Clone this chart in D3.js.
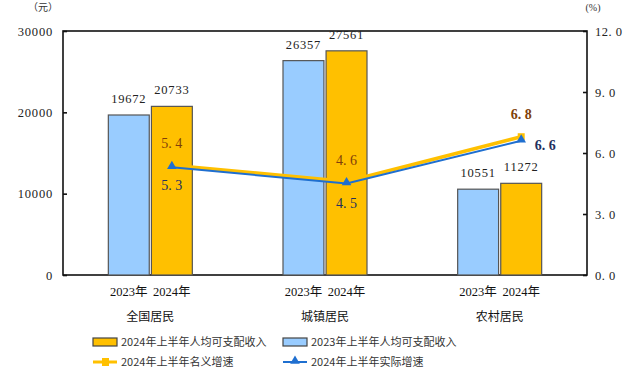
<!DOCTYPE html>
<html lang="zh">
<head>
  <meta charset="UTF-8" />
  <title>居民人均可支配收入</title>
  <script src="https://d3js.org/d3.v7.min.js"></script>
  <style>
    body { margin: 0; background: #fff; }
    svg text { font-family: "Liberation Serif", "Noto Sans CJK SC", serif; }
    .cjk { font-family: "Noto Sans CJK SC", sans-serif; }
  </style>
</head>
<body>
  <svg width="640" height="386"></svg>

  <script>
    // data
    const groups = ["全国居民", "城镇居民", "农村居民"];
    const years = ["2023年", "2024年"];
    const income2023 = [19672, 26357, 10551];
    const income2024 = [20733, 27561, 11272];
    const nominalGrowth = [5.4, 4.6, 6.8];
    const realGrowth = [5.3, 4.5, 6.6];
    const leftTicks = [0, 10000, 20000, 30000];
    const rightTicks = [0, 3, 6, 9, 12];

    const plot = { left: 63, right: 587, top: 31, bottom: 275 };
    const svg = d3.select("svg");

    const x = d3.scaleBand().domain(groups).range([plot.left, plot.right]);
    const sub = d3.scaleBand().domain(years).range([x.bandwidth() / 2 - 42, x.bandwidth() / 2 + 42]).paddingInner(0.05);
    const yL = d3.scaleLinear().domain([0, 30000]).range([plot.bottom, plot.top]);
    const yR = d3.scaleLinear().domain([0, 12]).range([plot.bottom, plot.top]);

    // frame
    svg.append("rect")
      .attr("x", plot.left).attr("y", plot.top)
      .attr("width", plot.right - plot.left).attr("height", plot.bottom - plot.top)
      .attr("fill", "none").attr("stroke", "#111").attr("stroke-width", 1.6);

    // axes (ticks point inward)
    const axisL = svg.append("g")
      .attr("transform", `translate(${plot.left},0)`)
      .call(d3.axisRight(yL).tickValues(leftTicks).tickSize(4).tickFormat(d => d));
    axisL.select(".domain").remove();
    axisL.selectAll("line").attr("stroke", "#111").attr("stroke-width", 1.6);
    axisL.selectAll("text")
      .attr("x", -10).attr("text-anchor", "end")
      .attr("font-size", 12.5).attr("fill", "#222").attr("letter-spacing", 0.8);

    const axisR = svg.append("g")
      .attr("transform", `translate(${plot.right},0)`)
      .call(d3.axisLeft(yR).tickValues(rightTicks).tickSize(4).tickFormat(d => d3.format(".1f")(d).replace(".", ". ")));
    axisR.select(".domain").remove();
    axisR.selectAll("line").attr("stroke", "#111").attr("stroke-width", 1.6);
    axisR.selectAll("text")
      .attr("x", 8).attr("text-anchor", "start")
      .attr("font-size", 12.5).attr("fill", "#222").attr("letter-spacing", 0.5);

    svg.append("text").attr("class", "cjk").attr("x", 43).attr("y", 11)
      .attr("text-anchor", "middle").attr("font-size", 10).attr("fill", "#333").text("（元）");
    svg.append("text").attr("x", 593).attr("y", 11)
      .attr("text-anchor", "middle").attr("font-size", 10).attr("fill", "#333").text("(%)");

    // bars
    const barData = [];
    groups.forEach((g, i) => {
      barData.push({ g, yr: years[0], v: income2023[i], fill: "#99CCFF" });
      barData.push({ g, yr: years[1], v: income2024[i], fill: "#FFC000" });
    });

    svg.selectAll(".bar")
      .data(barData)
      .enter().append("rect")
      .attr("class", "bar")
      .attr("x", d => x(d.g) + sub(d.yr))
      .attr("y", d => yL(d.v))
      .attr("width", sub.bandwidth())
      .attr("height", d => yL(0) - yL(d.v))
      .attr("fill", d => d.fill)
      .attr("stroke", "#555")
      .attr("stroke-width", 1.2);

    svg.selectAll(".barlabel")
      .data(barData)
      .enter().append("text")
      .attr("x", d => x(d.g) + sub(d.yr) + sub.bandwidth() / 2)
      .attr("y", d => yL(d.v) - 12)
      .attr("text-anchor", "middle")
      .attr("font-size", 12.5).attr("fill", "#222").attr("letter-spacing", 0.8)
      .text(d => d.v);

    // category labels
    svg.selectAll(".yearlabel")
      .data(barData)
      .enter().append("text")
      .attr("x", d => x(d.g) + sub(d.yr) + sub.bandwidth() / 2)
      .attr("y", 296)
      .attr("text-anchor", "middle")
      .attr("font-size", 12.5).attr("fill", "#111")
      .text(d => d.yr);

    svg.selectAll(".grouplabel")
      .data(groups)
      .enter().append("text")
      .attr("class", "cjk")
      .attr("x", d => x(d) + x.bandwidth() / 2)
      .attr("y", 321)
      .attr("text-anchor", "middle")
      .attr("font-size", 12).attr("fill", "#111")
      .text(d => d);

    // growth lines, drawn at the 2024 bar centres
    const px = g => x(g) + sub(years[1]) + sub.bandwidth() / 2;
    const lineN = d3.line().x((d, i) => px(groups[i])).y(d => yR(d));

    svg.append("path").datum(nominalGrowth)
      .attr("fill", "none").attr("stroke", "#FFC000").attr("stroke-width", 3.5)
      .attr("d", lineN);
    svg.selectAll(".sq").data(nominalGrowth).enter().append("rect")
      .attr("x", (d, i) => px(groups[i]) - 3.5).attr("y", d => yR(d) - 3.5)
      .attr("width", 7).attr("height", 7).attr("fill", "#FFC000");

    svg.append("path").datum(realGrowth)
      .attr("fill", "none").attr("stroke", "#1F6FD0").attr("stroke-width", 2)
      .attr("d", lineN);
    svg.selectAll(".tri").data(realGrowth).enter().append("path")
      .attr("transform", (d, i) => `translate(${px(groups[i])},${yR(d) - 1})`)
      .attr("d", d3.symbol(d3.symbolTriangle, 40))
      .attr("fill", "#1F6FD0");

    // growth labels
    const nomOffset = [[0, -17], [0, -16], [0, -18]];
    const realOffset = [[0, 23], [0, 24], [24, 9]];
    svg.selectAll(".nlabel").data(nominalGrowth).enter().append("text")
      .attr("x", (d, i) => px(groups[i]) + nomOffset[i][0])
      .attr("y", (d, i) => yR(d) + nomOffset[i][1])
      .attr("text-anchor", "middle")
      .attr("font-size", 14).attr("fill", "#7F3F0A")
      .attr("font-weight", (d, i) => i === 2 ? "bold" : "normal")
      .text(d => d3.format(".1f")(d).replace(".", ". "));
    svg.selectAll(".rlabel").data(realGrowth).enter().append("text")
      .attr("x", (d, i) => px(groups[i]) + realOffset[i][0])
      .attr("y", (d, i) => yR(d) + realOffset[i][1])
      .attr("text-anchor", "middle")
      .attr("font-size", 14).attr("fill", "#24305E")
      .attr("font-weight", (d, i) => i === 2 ? "bold" : "normal")
      .text(d => d3.format(".1f")(d).replace(".", ". "));

    // legend
    const legend = [
      { label: "2024年上半年人均可支配收入", type: "bar", color: "#FFC000", x: 93, y: 342 },
      { label: "2023年上半年人均可支配收入", type: "bar", color: "#99CCFF", x: 283, y: 342 },
      { label: "2024年上半年名义增速", type: "square", color: "#FFC000", x: 93, y: 362 },
      { label: "2024年上半年实际增速", type: "triangle", color: "#1F6FD0", x: 283, y: 362 }
    ];
    const lg = svg.selectAll(".legend").data(legend).enter().append("g")
      .attr("transform", d => `translate(${d.x},${d.y})`);
    lg.filter(d => d.type === "bar").append("rect")
      .attr("x", 0).attr("y", -4).attr("width", 24).attr("height", 8)
      .attr("fill", d => d.color).attr("stroke", "#444").attr("stroke-width", 1.2);
    lg.filter(d => d.type !== "bar").append("line")
      .attr("x1", 0).attr("x2", 24).attr("y1", 0).attr("y2", 0)
      .attr("stroke", d => d.color).attr("stroke-width", d => d.type === "square" ? 3 : 2);
    lg.filter(d => d.type === "square").append("rect")
      .attr("x", 9).attr("y", -4).attr("width", 7).attr("height", 8).attr("fill", d => d.color);
    lg.filter(d => d.type === "triangle").append("path")
      .attr("transform", "translate(12,-1)")
      .attr("d", d3.symbol(d3.symbolTriangle, 40)).attr("fill", d => d.color);
    lg.append("text").attr("class", "cjk")
      .attr("x", 28).attr("y", 4)
      .attr("font-size", 11).attr("fill", "#333")
      .text(d => d.label);
  </script>
</body>
</html>
